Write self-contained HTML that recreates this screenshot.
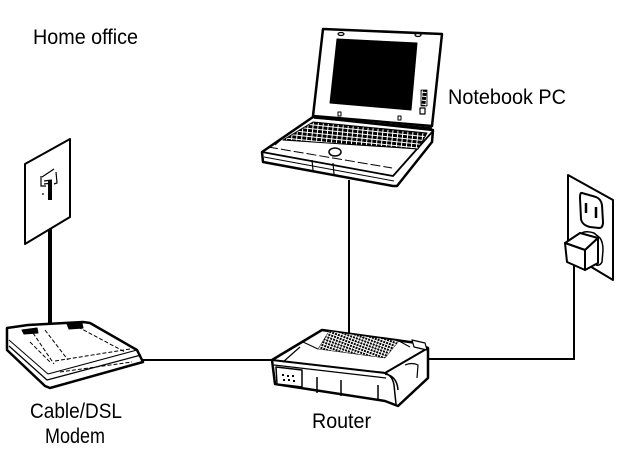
<!DOCTYPE html>
<html><head><meta charset="utf-8"><style>
html,body{margin:0;padding:0;background:#fff;}
svg{display:block;}
text{font-family:"Liberation Sans Narrow","Liberation Sans",sans-serif;font-size:21px;fill:#000;}
</style></head><body>
<svg width="640" height="467" viewBox="0 0 640 467" xmlns="http://www.w3.org/2000/svg">
<defs>
<pattern id="keys" width="5" height="4" patternUnits="userSpaceOnUse" patternTransform="rotate(6)">
<rect width="5" height="4" fill="#fff"/><rect x="0" y="0" width="4" height="3" fill="#000"/>
</pattern>
<pattern id="vent" width="3" height="3" patternUnits="userSpaceOnUse" patternTransform="rotate(20)">
<rect width="3" height="3" fill="#fff"/><rect width="2" height="2" fill="#000"/>
</pattern>
</defs>

<!-- labels -->
<text x="33" y="44" textLength="105" lengthAdjust="spacingAndGlyphs">Home office</text>
<text x="448" y="104" textLength="118" lengthAdjust="spacingAndGlyphs">Notebook PC</text>
<text x="30" y="418" textLength="92" lengthAdjust="spacingAndGlyphs">Cable/DSL</text>
<text x="45" y="443" textLength="60" lengthAdjust="spacingAndGlyphs">Modem</text>
<text x="312" y="428" textLength="59" lengthAdjust="spacingAndGlyphs">Router</text>

<!-- connectors -->
<g stroke="#000" fill="none" stroke-width="2">
<line x1="349" y1="180" x2="349" y2="333"/>
<line x1="140" y1="360" x2="272" y2="360"/>
<polyline points="426,359 574,359 574,266"/>
</g>
<line x1="50" y1="186" x2="50" y2="326" stroke="#000" stroke-width="4"/>

<!-- phone jack plate -->
<g stroke="#000" fill="#fff" stroke-width="2" stroke-linejoin="round">
<polygon points="25,164 70,139 70,217 25,244"/>
</g>
<g stroke="#000" fill="none" stroke-width="1.2">
<path d="M42,177 L54,169 M41,176 L41,186 L46,186 M56,172 L57,183 L54,184 M44,181 L52,180 M44,184 L52,183"/>
<line x1="42" y1="194" x2="44" y2="194"/>
</g>
<line x1="50" y1="180" x2="50" y2="200" stroke="#000" stroke-width="4"/>

<!-- modem -->
<g stroke="#000" stroke-linejoin="round">
<polygon points="7,328 28,325 83,322 90,323 137,350 143,362 50,388 45,386 7,350" fill="#fff" stroke-width="2.5"/>
<polyline points="9,346 47,380 141,355" fill="none" stroke-width="1.2"/>
<polyline points="9,340 48,374 137,350" fill="none" stroke-width="1"/>
<g stroke-dasharray="4,2" stroke-width="1" fill="none">
<line x1="33" y1="333" x2="54" y2="364"/>
<line x1="45" y1="330" x2="68" y2="360"/>
<line x1="78" y1="327" x2="125" y2="352"/>
<line x1="55" y1="361" x2="130" y2="349"/>
<line x1="60" y1="372" x2="132" y2="362"/>
<line x1="30" y1="342" x2="50" y2="362"/>
</g>
<path d="M22,330 L37,328 L38,333 L24,334 Z" fill="#000" stroke-width="1"/>
<path d="M67,324 L82,323 L83,328 L69,329 Z" fill="#000" stroke-width="1"/>
</g>

<!-- laptop -->
<g stroke="#000" stroke-linejoin="round">
<polygon points="313,117 433,130 432,142 397,186 393,186 263,162 262,152" fill="#fff" stroke-width="2.5"/>
<polyline points="262,152 393,176 433,131" fill="none" stroke-width="1.8"/>
<polyline points="264,157 394,181" fill="none" stroke-width="1"/>
<polygon points="313,122 427,133 418,149 283,140" fill="url(#keys)" stroke-width="1"/>
<line x1="290" y1="132" x2="275" y2="145" stroke-width="1"/>
<ellipse cx="335" cy="152" rx="6" ry="4" fill="#fff" stroke-width="1.5"/>
<line x1="312" y1="160" x2="313" y2="170" stroke-width="1.2"/>
<line x1="333" y1="163" x2="334" y2="174" stroke-width="1.2"/>
<line x1="268" y1="147" x2="392" y2="168" stroke-width="1" stroke-dasharray="10,3"/>
<polygon points="323,29 442,34 432,126 313,116" fill="#fff" stroke-width="2.5"/>
<polygon points="337,39 417,43 411,110 330,103" fill="#000" stroke-width="1"/>
<ellipse cx="341" cy="34" rx="3" ry="1.5" fill="#fff" stroke-width="1.2"/>
<ellipse cx="418" cy="35" rx="3" ry="1.5" fill="#fff" stroke-width="1.2"/>
<rect x="421" y="90" width="6" height="16" fill="url(#keys)" stroke-width="0.8"/>
<rect x="420" y="108" width="5" height="6" fill="#fff" stroke-width="1.2"/>
<line x1="314" y1="118" x2="432" y2="128" stroke-width="1.5"/>
<rect x="338" y="112" width="3" height="4" fill="#fff" stroke-width="1"/>
<rect x="398" y="116" width="3" height="4" fill="#fff" stroke-width="1"/>
</g>

<!-- router -->
<g stroke="#000" stroke-linejoin="round">
<polygon points="272,360 322,330 417,343 428,348 428,378 398,406 385,401 275,384" fill="#fff" stroke-width="2.5"/>
<polyline points="272,360 385,373 428,348" fill="none" stroke-width="2"/>
<polyline points="274,365 386,378" fill="none" stroke-width="1.2"/>
<polygon points="329,331 399,341 385,358 318,349" fill="url(#vent)" stroke-width="0.5"/>
<line x1="303" y1="342" x2="318" y2="349" stroke-width="1"/>
<line x1="399" y1="341" x2="410" y2="347" stroke-width="1"/>
<path d="M283,362 L300,347" stroke-width="1.2"/>
<polygon points="276,367 302,370 302,387 277,384" fill="#fff" stroke-width="1.5"/>
<path d="M317,377 L317,393 M341,380 L341,396 M378,385 L378,400" stroke-width="1.5" fill="none"/>
<path d="M378,372 Q392,372 394,385 L396,404 M385,374 Q397,376 398,390" fill="none" stroke-width="1.5"/>
<path d="M405,365 Q412,362 418,365 L417,378" fill="none" stroke-width="1.2"/>
<g fill="#000" stroke="none">
<rect x="282" y="374" width="2" height="2"/><rect x="287" y="375" width="2" height="2"/><rect x="292" y="375" width="2" height="2"/>
<rect x="283" y="379" width="2" height="2"/><rect x="288" y="379" width="2" height="2"/><rect x="293" y="380" width="2" height="2"/>
</g>
<path d="M412,340 L425,343 L427,350 L414,347 Z" fill="#fff" stroke-width="1.2"/>
</g>

<!-- outlet -->
<g stroke="#000" stroke-linejoin="round">
<polygon points="568,175 613,200 613,280 568,253" fill="#fff" stroke-width="2"/>
<path d="M582,193 Q580,192 580,198 L581,219 Q582,225 590,227 L599,228 Q603,228 603,222 L602,205 Q601,199 596,197 Z" fill="#fff" stroke-width="2"/>
<line x1="586" y1="203" x2="586" y2="213" stroke-width="2.5"/>
<line x1="596" y1="207" x2="596" y2="218" stroke-width="2.5"/>
<path d="M580,234 Q585,230 594,233 L600,238 Q603,242 603,250 L602,262 Q600,266 596,265" fill="#fff" stroke-width="1.5"/>
<polygon points="565,243 580,233 598,238 585,250" fill="#fff" stroke-width="2"/>
<polygon points="565,243 585,250 585,270 567,262" fill="#fff" stroke-width="2"/>
<polygon points="585,250 598,238 598,263 585,270" fill="#fff" stroke-width="2"/>
</g>
<line x1="574" y1="266" x2="574" y2="300" stroke="#000" stroke-width="2"/>
</svg>
</body></html>
